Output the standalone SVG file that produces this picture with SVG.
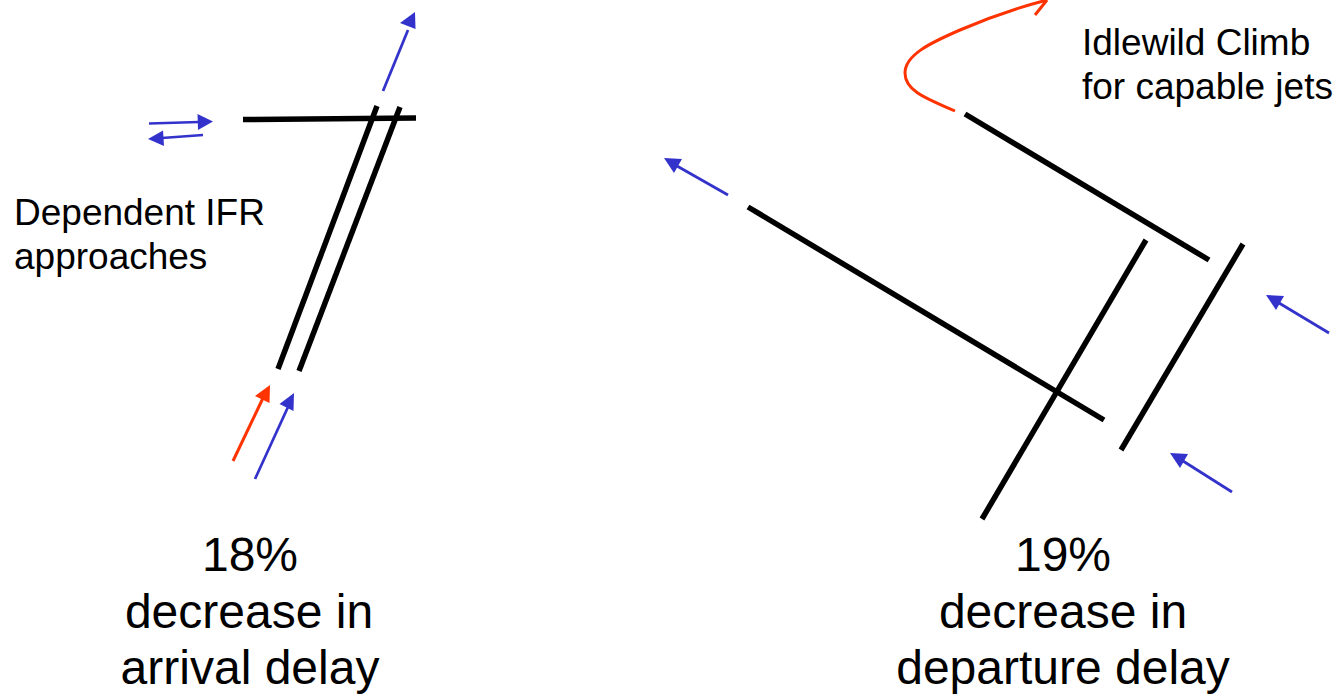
<svg xmlns="http://www.w3.org/2000/svg" width="1338" height="694" viewBox="0 0 1338 694">
<style>
.rw{stroke:#000;stroke-width:5.500;fill:none}
.b{stroke:#3333cc;stroke-width:2.750;fill:none}
.r{stroke:#ff3300;stroke-width:3;fill:none}
.bh{fill:#3333cc}
.rh{fill:#ff3300}
text{font-family:"Liberation Sans",Arial,sans-serif;fill:#000}
.s{font-size:37px}
.l{font-size:48px;text-anchor:middle}
</style>
<rect width="1338" height="694" fill="#fff"/>
<g id="connectors">
<line class="rw" x1="243" y1="119.500" x2="416" y2="118"/>
<line class="rw" x1="377" y1="106" x2="278" y2="369"/>
<line class="rw" x1="400" y1="107" x2="299" y2="371"/>
<line class="rw" x1="965" y1="114" x2="1209" y2="260"/>
<line class="rw" x1="748" y1="207" x2="1104" y2="420"/>
<line class="rw" x1="1146" y1="240" x2="982" y2="519"/>
<line class="rw" x1="1243" y1="244" x2="1121" y2="450"/>
<line class="b" x1="383" y1="91" x2="408" y2="30"/><polygon class="bh" points="415,12 415.500,29 400,23"/>
<line class="b" x1="149" y1="123.500" x2="199" y2="122"/><polygon class="bh" points="213,121.500 197.500,114 198,130"/>
<line class="b" x1="203" y1="135" x2="162" y2="138"/><polygon class="bh" points="148,139 163,130.500 164,146"/>
<line class="r" x1="233" y1="461" x2="263" y2="398"/><polygon class="rh" points="270,385 269.500,403 255,396"/>
<line class="b" x1="255" y1="479" x2="288" y2="407"/><polygon class="bh" points="294,393 293.500,411 279.500,404"/>
<line class="b" x1="728" y1="195" x2="677" y2="166"/><polygon class="bh" points="664,158 682,159 674,173"/>
<line class="b" x1="1329" y1="333" x2="1279" y2="303"/><polygon class="bh" points="1266,295 1284,296 1276,310"/>
<line class="b" x1="1232" y1="492" x2="1183" y2="461"/><polygon class="bh" points="1170,453 1188,454 1180,468"/>
<path class="r" d="M955 111C930 100 905 92 905 73C905 55 930 43 960 30C990 17 1020 7 1047 0"/>
<path class="r" d="M1035 15L1047 0"/>
</g>
<g id="label-dependent"><text class="s" x="14" y="225">Dependent IFR</text><text class="s" x="14" y="269">approaches</text></g>
<g id="label-idlewild"><text class="s" x="1082" y="55">Idlewild Climb</text><text class="s" x="1082" y="99">for capable jets</text></g>
<g id="label-arrival"><text class="l" x="250" y="571">18%</text><text class="l" x="249" y="628">decrease in</text><text class="l" x="250" y="684">arrival delay</text></g>
<g id="label-departure"><text class="l" x="1063" y="571">19%</text><text class="l" x="1063" y="628">decrease in</text><text class="l" x="1063" y="684">departure delay</text></g>
</svg>
